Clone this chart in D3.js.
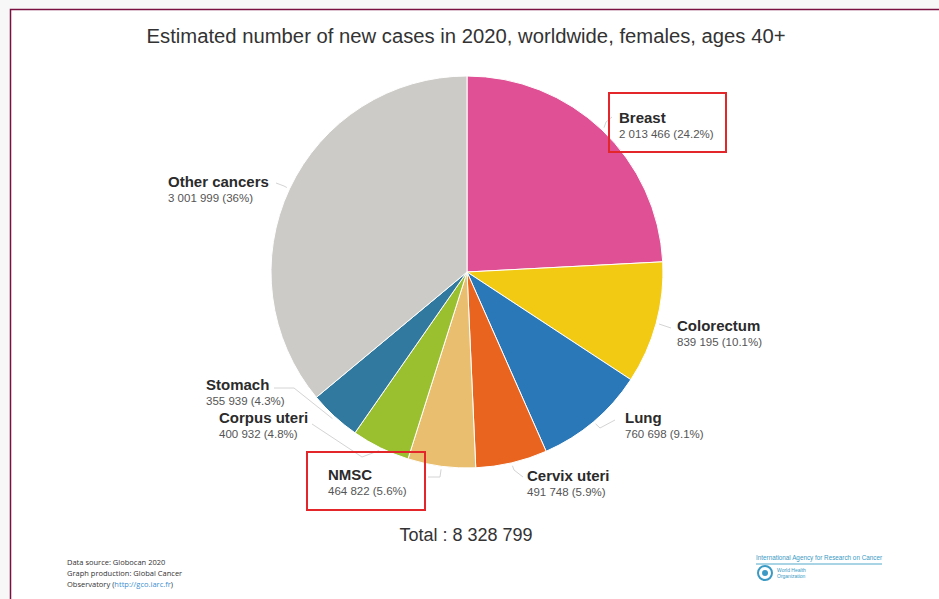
<!DOCTYPE html>
<html>
<head>
<meta charset="utf-8">
<script src="https://cdn.jsdelivr.net/npm/d3@7"></script>
<style>
  html, body { margin: 0; padding: 0; background: #f7f7f7; }
  svg { display: block; }
</style>
</head>
<body>
<script>
const width = 939;
const height = 599;

// data
const categories = ['Breast', 'Colorectum', 'Lung', 'Cervix uteri', 'NMSC', 'Corpus uteri', 'Stomach', 'Other cancers'];
const counts = [2013466, 839195, 760698, 491748, 464822, 400932, 355939, 3001999];
const shares = ['24.2%', '10.1%', '9.1%', '5.9%', '5.6%', '4.8%', '4.3%', '36%'];
const colors = ['#e05094', '#f2c913', '#2a78b8', '#e8641f', '#e9bf6f', '#9ac030', '#31799f', '#cdcbc7'];
const highlighted = ['Breast', 'NMSC'];

// label layout: anchor x, name baseline, elbow of leader line, end of leader line
const labelLayout = {
  'Breast':        { x: 619, y: 123, anchor: 'start', elbow: [606, 122], end: [612, 117] },
  'Colorectum':    { x: 677, y: 331, anchor: 'start', elbow: [662, 325], end: [671, 328] },
  'Lung':          { x: 625, y: 423, anchor: 'start', elbow: [600, 428], end: [615, 420] },
  'Cervix uteri':  { x: 527, y: 481, anchor: 'start', elbow: [514, 470], end: [523, 477] },
  'NMSC':          { x: 328, y: 480, anchor: 'start', elbow: [440, 477], end: [428, 477] },
  'Corpus uteri':  { x: 219, y: 423, anchor: 'start', elbow: [362, 457], end: [312, 424] },
  'Stomach':       { x: 206, y: 390, anchor: 'start', elbow: [294, 388], end: [274, 388] },
  'Other cancers': { x: 168, y: 187, anchor: 'start', elbow: [284, 186], end: [276, 183] }
};

const cx = 467;
const cy = 272;
const radius = 196;

const fmt = d3.formatLocale({ decimal: '.', thousands: ' ', grouping: [3], currency: ['', ''] }).format(',');

const data = categories.map((c, i) => ({ name: c, value: counts[i], share: shares[i], color: colors[i] }));

const svg = d3.select('body')
  .append('svg')
  .attr('width', width)
  .attr('height', height);

// frame
svg.append('rect')
  .attr('x', 10.5)
  .attr('y', 9.5)
  .attr('width', width)
  .attr('height', height)
  .attr('fill', '#ffffff')
  .attr('stroke', '#7a1040')
  .attr('stroke-width', 1.5);

// title
svg.append('text')
  .text('Estimated number of new cases in 2020, worldwide, females, ages 40+')
  .attr('x', 466)
  .attr('y', 43)
  .attr('text-anchor', 'middle')
  .attr('textLength', 639)
  .attr('lengthAdjust', 'spacingAndGlyphs')
  .style('font-family', 'Liberation Sans, Arial, sans-serif')
  .style('font-size', '20px')
  .style('fill', '#333');

const pie = d3.pie().sort(null).value(d => d.value);
const arcs = pie(data);

const arc = d3.arc().innerRadius(0).outerRadius(radius);
const rimArc = d3.arc().innerRadius(radius + 3).outerRadius(radius + 3);

const g = svg.append('g')
  .attr('transform', `translate(${cx}, ${cy})`);

g.selectAll('path.slice')
  .data(arcs)
  .enter()
  .append('path')
  .attr('class', 'slice')
  .attr('d', arc)
  .attr('fill', d => d.data.color)
  .attr('stroke', '#ffffff')
  .attr('stroke-width', 1);

// leader lines
svg.selectAll('path.leader')
  .data(arcs)
  .enter()
  .append('path')
  .attr('class', 'leader')
  .attr('d', d => {
    const c = rimArc.centroid(d);
    const l = labelLayout[d.data.name];
    return d3.line()([[cx + c[0], cy + c[1]], l.elbow, l.end]);
  })
  .attr('fill', 'none')
  .attr('stroke', '#d4d4d4')
  .attr('stroke-width', 1);

// labels
const labels = svg.selectAll('g.label')
  .data(arcs)
  .enter()
  .append('g')
  .attr('class', 'label');

labels.append('text')
  .text(d => d.data.name)
  .attr('x', d => labelLayout[d.data.name].x)
  .attr('y', d => labelLayout[d.data.name].y)
  .style('font-family', 'Liberation Sans, Arial, sans-serif')
  .style('font-weight', 'bold')
  .style('font-size', '15px')
  .style('fill', '#2b2b2b');

labels.append('text')
  .text(d => `${fmt(d.data.value)} (${d.data.share})`)
  .attr('x', d => labelLayout[d.data.name].x)
  .attr('y', d => labelLayout[d.data.name].y + 15)
  .style('font-family', 'Liberation Sans, Arial, sans-serif')
  .style('font-size', '11.5px')
  .style('fill', '#555');

// red highlight boxes
const boxes = {
  'Breast': [609, 93, 117, 59],
  'NMSC': [307, 452, 118, 58]
};
svg.selectAll('rect.highlight')
  .data(highlighted)
  .enter()
  .append('rect')
  .attr('class', 'highlight')
  .attr('x', d => boxes[d][0])
  .attr('y', d => boxes[d][1])
  .attr('width', d => boxes[d][2])
  .attr('height', d => boxes[d][3])
  .attr('fill', 'none')
  .attr('stroke', '#e3262a')
  .attr('stroke-width', 2);

// total
svg.append('text')
  .text(`Total : ${fmt(d3.sum(counts))}`)
  .attr('x', 466)
  .attr('y', 541)
  .attr('text-anchor', 'middle')
  .style('font-family', 'Liberation Sans, Arial, sans-serif')
  .style('font-size', '18px')
  .style('fill', '#333');

// source notes
const notes = svg.append('text')
  .style('font-family', 'Open Sans, sans-serif')
  .style('font-size', '7.5px')
  .style('fill', '#333');
notes.append('tspan').attr('x', 67).attr('y', 565).text('Data source: Globocan 2020');
notes.append('tspan').attr('x', 67).attr('y', 576).text('Graph production: Global Cancer');
const l3 = notes.append('tspan').attr('x', 67).attr('y', 587);
l3.append('tspan').text('Observatory (');
l3.append('tspan').style('fill', '#3a8fd0').text('http://gco.iarc.fr');
l3.append('tspan').text(')');

// IARC / WHO logo
const logo = svg.append('g');
logo.append('text')
  .text('International Agency for Research on Cancer')
  .attr('x', 756)
  .attr('y', 560)
  .attr('textLength', 126)
  .attr('lengthAdjust', 'spacingAndGlyphs')
  .style('font-family', 'Liberation Sans, Arial, sans-serif')
  .style('font-size', '6.5px')
  .style('fill', '#3a9ac4');
logo.append('line')
  .attr('x1', 756).attr('x2', 882)
  .attr('y1', 564).attr('y2', 564)
  .attr('stroke', '#8cc6de')
  .attr('stroke-width', 1.5);
logo.append('circle')
  .attr('cx', 765).attr('cy', 573).attr('r', 7)
  .attr('fill', 'none')
  .attr('stroke', '#3a9ac4')
  .attr('stroke-width', 2);
logo.append('circle')
  .attr('cx', 765).attr('cy', 573).attr('r', 3)
  .attr('fill', '#3a9ac4');
logo.append('text')
  .attr('x', 777).attr('y', 572)
  .style('font-family', 'Liberation Sans, Arial, sans-serif')
  .style('font-size', '5px')
  .style('fill', '#3a9ac4')
  .text('World Health');
logo.append('text')
  .attr('x', 777).attr('y', 578)
  .style('font-family', 'Liberation Sans, Arial, sans-serif')
  .style('font-size', '5px')
  .style('fill', '#3a9ac4')
  .text('Organization');
</script>
</body>
</html>
